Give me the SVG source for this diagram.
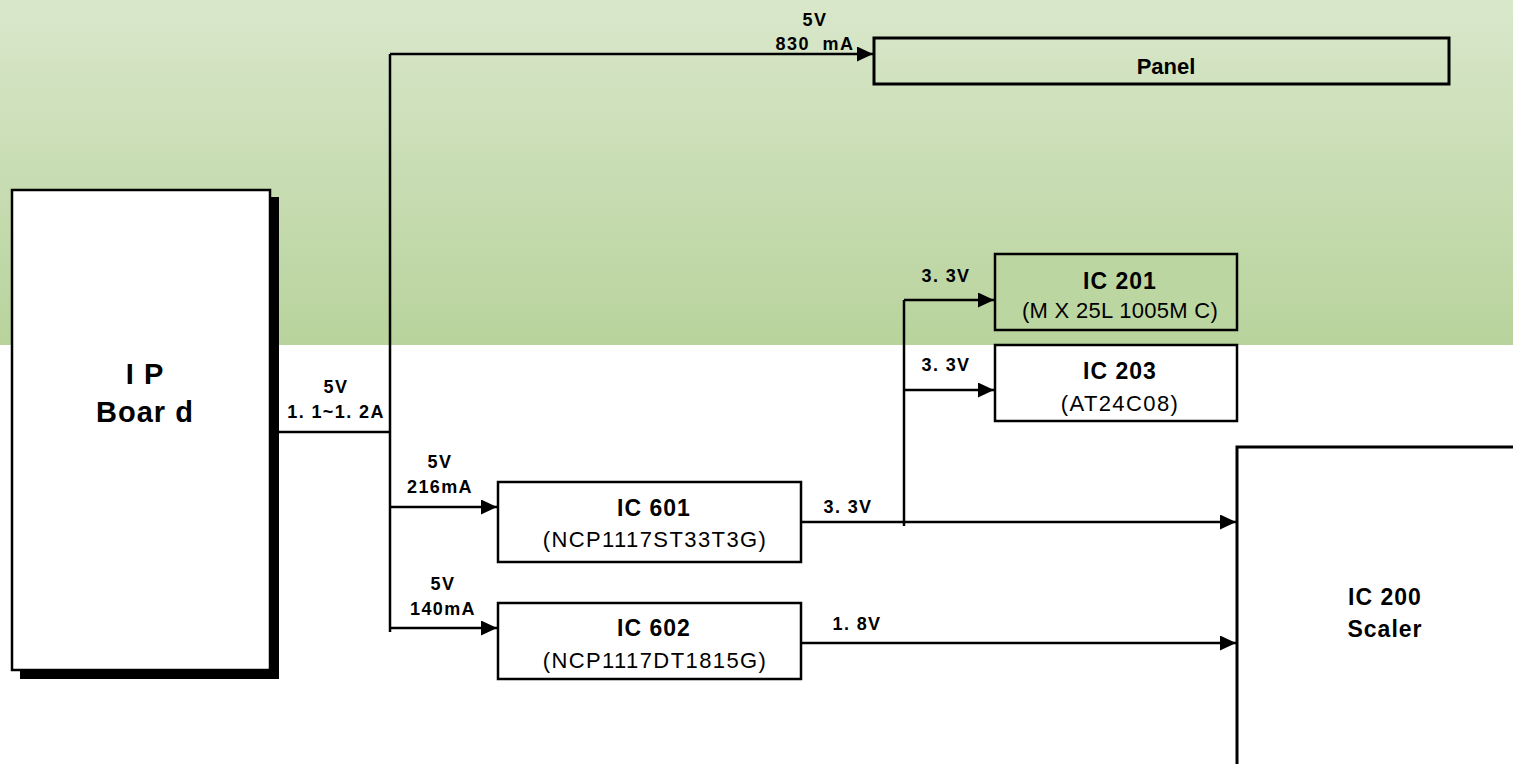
<svg xmlns="http://www.w3.org/2000/svg" width="1513" height="764" viewBox="0 0 1513 764">
<defs>
<linearGradient id="bg" x1="0" y1="0" x2="0" y2="1">
<stop offset="0" stop-color="#d9e7cb"/>
<stop offset="1" stop-color="#b8d39c"/>
</linearGradient>
<marker id="arr" markerWidth="17" markerHeight="15" refX="16" refY="7.5" orient="auto" markerUnits="userSpaceOnUse">
<path d="M0,0 L16,7.5 L0,15 Z" fill="#000"/>
</marker>
</defs>
<style>
.box{fill:none;stroke:#000;stroke-width:2.5}
.wbox{fill:#fff;stroke:#000;stroke-width:2.5}
.wire{fill:none;stroke:#000;stroke-width:2.5}
.arrow{marker-end:url(#arr)}
text{font-family:"Liberation Sans",Arial,sans-serif;fill:#000;text-anchor:middle}
.t{font-size:23px;font-weight:bold;letter-spacing:1px}
.s{font-size:22px;letter-spacing:1.4px}
.l{font-size:18px;font-weight:bold;letter-spacing:1.4px}
</style>
<rect x="0" y="0" width="1513" height="345" fill="url(#bg)"/>
<rect x="0" y="345" width="1513" height="419" fill="#fff"/>

<g id="connectors">
<path class="wire" d="M270,432 H390"/>
<path class="wire" d="M390,632 V54"/>
<path class="wire arrow" d="M390,54 H873"/>
<path class="wire arrow" d="M390,507 H497"/>
<path class="wire arrow" d="M390,628 H497"/>
<path class="wire arrow" d="M801,522 H1236"/>
<path class="wire arrow" d="M801,643 H1236"/>
<path class="wire" d="M904,526 V300"/>
<path class="wire arrow" d="M904,300 H994"/>
<path class="wire arrow" d="M904,390 H994"/>
<text class="l" x="336" y="393">5V</text>
<text class="l" x="336" y="418">1. 1~1. 2A</text>
<text class="l" x="815" y="26">5V</text>
<text class="l" x="815" y="50" xml:space="preserve">830  mA</text>
<text class="l" x="440" y="468">5V</text>
<text class="l" x="440" y="493">216mA</text>
<text class="l" x="443" y="590">5V</text>
<text class="l" x="443" y="615">140mA</text>
<text class="l" x="848" y="513">3. 3V</text>
<text class="l" x="857" y="630">1. 8V</text>
<text class="l" x="946" y="282">3. 3V</text>
<text class="l" x="946" y="371">3. 3V</text>
</g>

<g id="ip-board">
<rect x="20" y="197" width="259" height="482" fill="#000"/>
<rect class="wbox" x="12" y="190" width="258" height="480"/>
<text x="145" y="384" style="font-size:29px;font-weight:bold;letter-spacing:1px">I P</text>
<text x="145" y="422" style="font-size:29px;font-weight:bold;letter-spacing:1px">Boar d</text>
</g>

<g id="panel">
<rect class="box" x="874" y="38" width="575" height="46" style="stroke-width:3"/>
<text x="1166" y="74" style="font-size:22px;font-weight:bold">Panel</text>
</g>

<g id="ic201">
<rect class="box" x="995" y="254" width="242" height="76" style="fill:#bcd6a1"/>
<text class="t" x="1120" y="289">IC 201</text>
<text class="s" x="1120" y="318" style="letter-spacing:0.3px">(M X 25L 1005M C)</text>
</g>

<g id="ic203">
<rect class="wbox" x="995" y="345" width="242" height="76"/>
<text class="t" x="1120" y="379">IC 203</text>
<text class="s" x="1120" y="411">(AT24C08)</text>
</g>

<g id="ic601">
<rect class="wbox" x="498" y="482" width="303" height="80"/>
<text class="t" x="654" y="516">IC 601</text>
<text class="s" x="655" y="547">(NCP1117ST33T3G)</text>
</g>

<g id="ic602">
<rect class="wbox" x="498" y="603" width="303" height="76"/>
<text class="t" x="654" y="636">IC 602</text>
<text class="s" x="655" y="668">(NCP1117DT1815G)</text>
</g>

<g id="ic200">
<rect class="wbox" x="1237" y="447" width="300" height="340" style="stroke-width:3"/>
<text class="t" x="1385" y="605">IC 200</text>
<text class="t" x="1385" y="637">Scaler</text>
</g>
</svg>
